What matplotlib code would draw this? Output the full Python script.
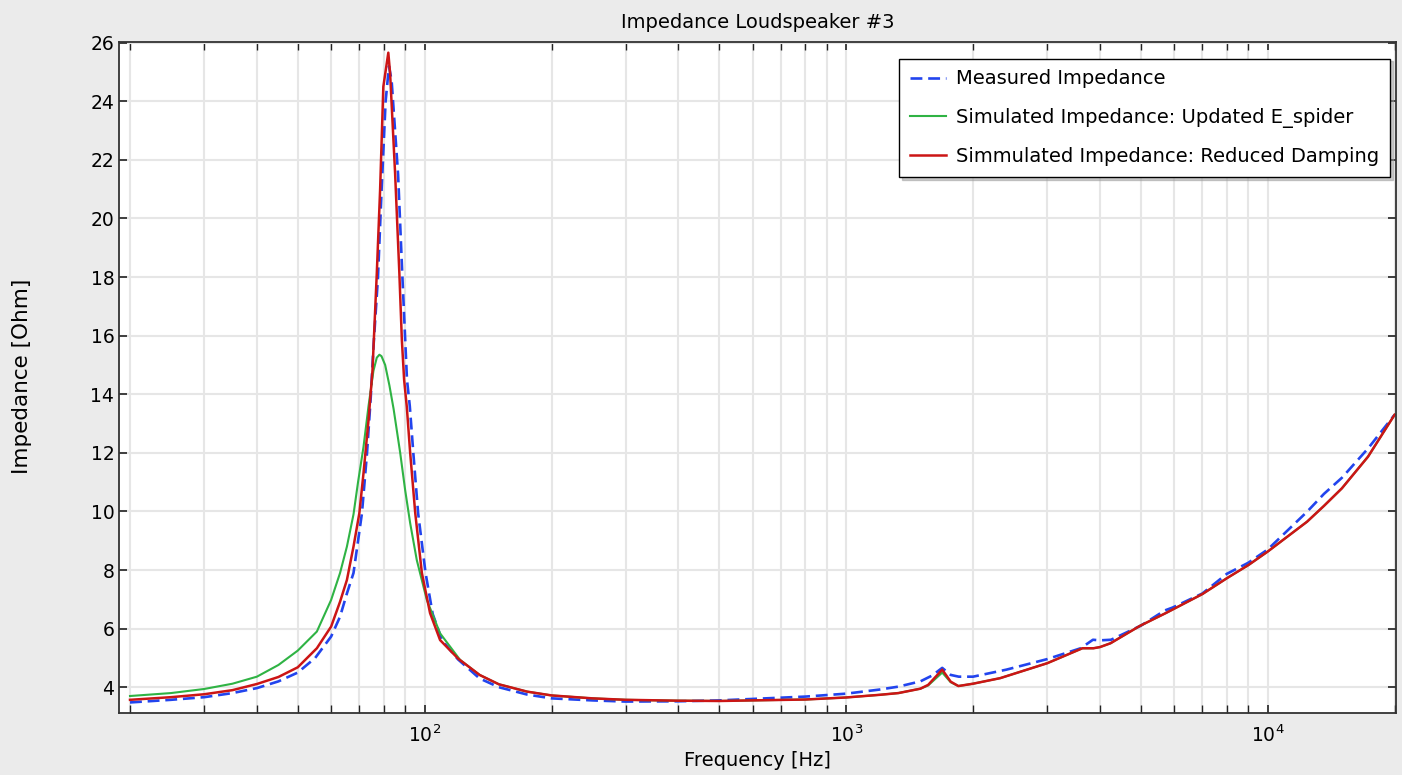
import numpy as np
import matplotlib.pyplot as plt

# Measured impedance (blue dashed)
freq_meas = [20, 25, 30, 35, 40, 45, 50, 55, 60, 63, 65.4, 67.8, 71, 73, 74.5, 75.6,
             77.5, 79, 80.8, 82.3, 83.5, 86.5, 88.5, 90.8, 92.2, 94, 96.5, 100.5,
             104.5, 110, 120, 135, 150, 175, 200, 250, 300, 400, 500, 600, 800,
             1000, 1200, 1330, 1500, 1600, 1690, 1770, 1850, 2000, 2400, 3000,
             3600, 3850, 4000, 4250, 5000, 5700, 5950, 7000, 8000, 9000, 10000,
             12400, 13600, 15000, 17300, 20000]
z_meas = [3.48, 3.57, 3.66, 3.80, 3.97, 4.20, 4.50, 5.00, 5.73, 6.41, 7.20, 7.90,
          9.94, 12.0, 13.9, 15.6, 18.0, 20.9, 24.0, 25.2, 24.7, 21.5, 18.1, 14.5,
          13.6, 12.0, 9.94, 7.90, 6.50, 5.60, 4.95, 4.30, 4.00, 3.75, 3.62, 3.55,
          3.51, 3.52, 3.55, 3.60, 3.68, 3.78, 3.92, 4.02, 4.20, 4.40, 4.66, 4.42,
          4.36, 4.36, 4.60, 4.96, 5.33, 5.62, 5.60, 5.62, 6.10, 6.62, 6.72, 7.20,
          7.87, 8.25, 8.70, 9.99, 10.6, 11.15, 12.15, 13.3]

# Simulated, updated E_spider (green)
freq_spider = [20, 25, 30, 35, 40, 45, 50, 55.5, 60, 63, 65.4, 67.8, 69.5, 71.6,
               73.6, 75.6, 77, 78.1, 79, 80.6, 82.5, 84.4, 87.5, 89.9, 92.4, 95.8,
               101.2, 108.8, 121.4, 135, 150, 175, 200, 250, 300, 400, 500, 600,
               800, 1000, 1200, 1330, 1500, 1565, 1690, 1770, 1846, 2000, 2320,
               3000, 3635, 3860, 4000, 4237, 4970, 5730, 7000, 8000, 9000, 10000,
               12400, 13600, 15000, 17300, 20000]
z_spider = [3.70, 3.80, 3.94, 4.12, 4.36, 4.76, 5.25, 5.90, 6.98, 7.90, 8.80, 9.90,
            11.0, 12.2, 13.6, 14.8, 15.25, 15.35, 15.3, 15.0, 14.3, 13.5, 12.0,
            10.73, 9.60, 8.34, 6.98, 5.84, 4.93, 4.42, 4.10, 3.85, 3.72, 3.62,
            3.57, 3.54, 3.53, 3.55, 3.58, 3.65, 3.74, 3.80, 3.95, 4.06, 4.50, 4.17,
            4.04, 4.12, 4.31, 4.82, 5.33, 5.33, 5.37, 5.50, 6.09, 6.53, 7.18, 7.72,
            8.17, 8.63, 9.65, 10.19, 10.79, 11.87, 13.3]

# Simulated, reduced damping (red)
freq_damp = [20, 25, 30, 35, 40, 45, 50, 55.5, 60, 63, 65.4, 67.8, 70, 71.6, 73.6,
             75.2, 77, 78.4, 79.8, 82, 82.8, 85.1, 87.1, 88.3, 89.4, 90.7, 92.4,
             95, 98.5, 103, 108.8, 120, 135, 150, 175, 200, 250, 300, 400, 500,
             600, 800, 1000, 1200, 1330, 1500, 1565, 1690, 1770, 1846, 2000, 2320,
             3000, 3635, 3860, 4000, 4237, 4970, 5730, 7000, 8000, 9000, 10000,
             12400, 13600, 15000, 17300, 20000]
z_damp = [3.57, 3.66, 3.76, 3.90, 4.11, 4.35, 4.68, 5.33, 6.07, 6.92, 7.66, 8.80,
          9.94, 11.3, 13.12, 14.8, 18.13, 20.97, 24.5, 25.66, 24.96, 21.54, 18.13,
          15.85, 14.49, 13.58, 12.0, 9.94, 7.90, 6.53, 5.61, 4.98, 4.42, 4.10,
          3.85, 3.72, 3.62, 3.57, 3.54, 3.53, 3.55, 3.58, 3.65, 3.74, 3.80, 3.95,
          4.08, 4.60, 4.19, 4.04, 4.12, 4.31, 4.82, 5.33, 5.33, 5.37, 5.50, 6.09,
          6.53, 7.18, 7.72, 8.17, 8.63, 9.65, 10.19, 10.79, 11.87, 13.3]

y_ticks = np.arange(4, 27, 2)

plt.rcParams['font.family'] = 'DejaVu Sans'
plt.rcParams['font.size'] = 13.5

fig = plt.figure(figsize=(14.02, 7.75), dpi=100, facecolor='#ebebeb')
ax = fig.add_axes([0.085, 0.08, 0.911, 0.866])
ax.set_facecolor('white')

ax.semilogx(freq_meas, z_meas, color='#2244ee', linewidth=1.9, dashes=(4.5, 2.2),
            label='Measured Impedance')
ax.semilogx(freq_spider, z_spider, color='#2fb344', linewidth=1.5,
            label='Simulated Impedance: Updated E_spider')
ax.semilogx(freq_damp, z_damp, color='#cc1515', linewidth=1.8,
            label='Simmulated Impedance: Reduced Damping')

ax.set_xlim(18.85, 20200)
ax.set_ylim(3.12, 26.03)
ax.set_yticks(y_ticks)

ax.grid(True, which='major', color='#e6e6e6', linewidth=1.5)
ax.grid(True, which='minor', axis='x', color='#e6e6e6', linewidth=1.5)
ax.set_axisbelow(True)

ax.tick_params(which='both', direction='in', top=True, right=True, color='#222222')
ax.tick_params(which='major', length=6, width=1.2)
ax.tick_params(which='minor', length=6, width=1.0)
ax.tick_params(axis='x', which='minor', labelbottom=False)
ax.tick_params(axis='x', pad=8)
for s in ax.spines.values():
    s.set_color('#333333')
    s.set_linewidth(1.3)

ax.set_title('Impedance Loudspeaker #3', fontsize=14, pad=10)
ax.set_xlabel('Frequency [Hz]', fontsize=14, labelpad=4)
ax.set_ylabel('Impedance [Ohm]', fontsize=15.5)
ax.yaxis.set_label_coords(-0.068, 0.502)

leg = ax.legend(loc='upper right', bbox_to_anchor=(0.995, 0.975), borderaxespad=0,
                fancybox=False, shadow={'shade': 0.4}, framealpha=1,
                edgecolor='black', fontsize=14, handlelength=1.9,
                handletextpad=0.5, labelspacing=1.0, borderpad=0.55)
leg.get_frame().set_linewidth(1.0)

fig.savefig('out.png', dpi=100, facecolor=fig.get_facecolor())
